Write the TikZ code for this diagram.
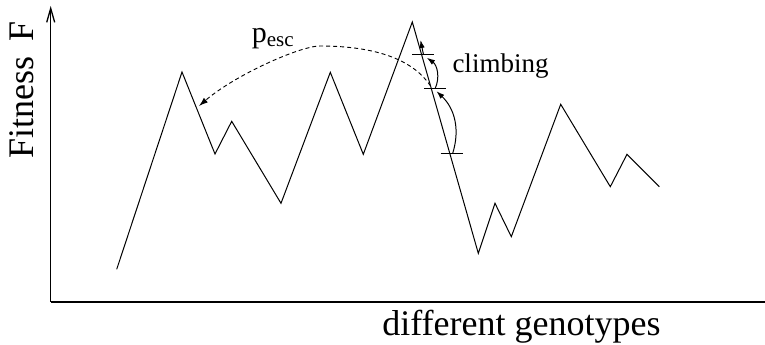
\documentclass[tikz,border=0pt]{standalone}
\usepackage{fontspec}
\setmainfont{Liberation Serif}
\usepackage{tikz}
\usetikzlibrary{arrows.meta,positioning}
\definecolor{ink}{HTML}{000000}

\begin{document}
\begin{tikzpicture}[x=1pt,y=-1pt]
\useasboundingbox (0,0) rectangle (765,345);
% axes
\coordinate (origin) at (50.7,301.7);
\coordinate (ytop) at (50.7,6);
\coordinate (xend) at (765,301.7);
\draw[ink,line width=1.3pt,-{Straight Barb[length=14pt,width=8pt]}] (origin) -- (ytop);
\draw[ink,line width=1.6pt] (origin) -- (xend);
\node[rotate=90,anchor=base,font=\fontsize{36}{40}\selectfont,inner sep=0pt] (ylab) at (33,90) {Fitness\hspace{0.15em} F};
\node[anchor=base,font=\fontsize{36}{40}\selectfont,inner sep=0pt] (xlab) at (521.5,335) {different genotypes};
% landscape
\draw[ink,line width=1pt,line join=miter] (116.7,269.3) -- (182,72) -- (215,154) -- (231.7,121.3) -- (281,203.3) -- (330.3,72.3) -- (363.3,154.3) -- (412.3,22) -- (478.3,253.3) -- (495,203.3) -- (511.3,236.7) -- (560.7,104.3) -- (610.3,186.7) -- (627,154.3) -- (659.3,186.7);
% climbing steps
\coordinate (t0) at (420.5,40);
\coordinate (t1) at (423.4,54.3);
\coordinate (t2) at (435,88.8);
\coordinate (t3) at (451.7,153.3);
\foreach \t in {t1,t2,t3}
  \draw[ink,line width=1pt] ([xshift=-11pt]\t) -- ([xshift=11pt]\t);
\draw[ink,line width=1pt,-{Latex[length=8pt,width=5.5pt]}] ([xshift=1pt]t3) to[bend right=32] ([xshift=1.5pt,yshift=-2.5pt]t2);
\draw[ink,line width=1pt,-{Latex[length=8pt,width=5.5pt]}] (t2) to[bend right=40] ([xshift=3.5pt,yshift=-3.5pt]t1);
\draw[ink,line width=1pt,-{Latex[length=8pt,width=5.5pt]}] (t1) -- (t0);
\node[anchor=base,font=\fontsize{27}{30}\selectfont,inner sep=0pt] (climb) at (500.5,72.7) {climbing};
% escape
\coordinate (esc) at (430.5,86);
\coordinate (apex) at (320,46);
\coordinate (land) at (199,106);
\draw[ink,line width=0.9pt,dash pattern=on 4pt off 3pt,-{Latex[length=9pt,width=6pt]}] (esc) .. controls (410,55) and (365,46) .. (apex) .. controls (300,46) and (235,75) .. (land);
\node[anchor=base,font=\fontsize{30}{34}\selectfont,inner sep=0pt] (pesc) at (273,43) {p\textsubscript{esc}};
\end{tikzpicture}
\end{document}
